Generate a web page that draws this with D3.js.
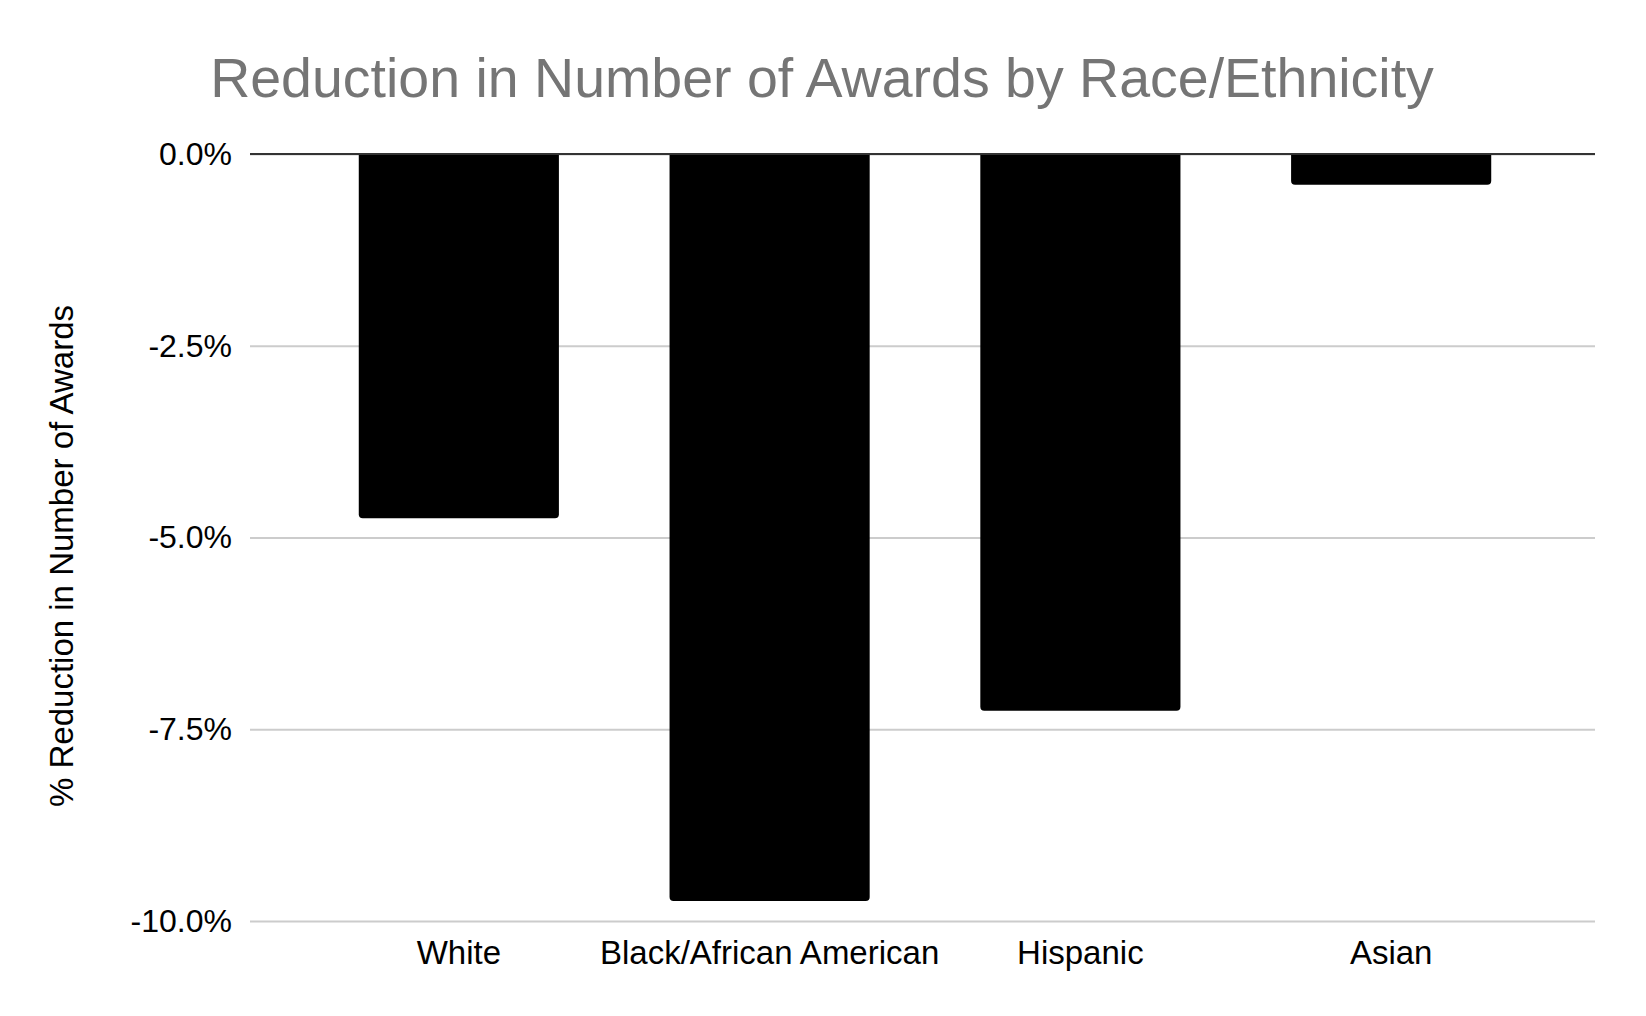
<!DOCTYPE html>
<html>
<head>
<meta charset="utf-8">
<script src="https://cdn.jsdelivr.net/npm/d3@7"></script>
<style>
  body { margin: 0; background: #fff; }
  text { font-family: "Liberation Sans", Arial, sans-serif; }
</style>
</head>
<body>
<div id="chart"></div>
<script>
// Data
const categories = ["White", "Black/African American", "Hispanic", "Asian"];
const reductions = [-4.75, -9.74, -7.26, -0.40];
const tickValues = [0, -2.5, -5, -7.5, -10];

const width = 1646;
const height = 1016;
const margin = { top: 154, right: 51, bottom: 95, left: 250 };

const svg = d3.select("#chart")
  .append("svg")
  .attr("width", width)
  .attr("height", height);

// Title
svg.append("text")
  .attr("x", width / 2 - 1)
  .attr("y", 97)
  .attr("text-anchor", "middle")
  .style("font-size", "55.5px")
  .style("fill", "#757575")
  .text("Reduction in Number of Awards by Race/Ethnicity");

// Scales (bars sit a little inside the gridline extent)
const x = d3.scaleBand()
  .domain(categories)
  .range([margin.left, width - 46])
  .paddingInner(0.356)
  .paddingOuter(0.35);

const y = d3.scaleLinear()
  .domain([0, -10])
  .range([margin.top, height - margin.bottom]);

// Gridlines + tick labels
const yAxis = svg.append("g")
  .attr("transform", `translate(${margin.left},0)`)
  .call(d3.axisLeft(y)
    .tickValues(tickValues)
    .tickSize(-(width - margin.left - margin.right))
    .tickPadding(18)
    .tickFormat(d => d3.format(".1f")(d).replace("\u2212", "-") + "%"));

yAxis.select(".domain").remove();
yAxis.selectAll(".tick line")
  .attr("stroke", "#cccccc")
  .attr("stroke-width", 2);
yAxis.selectAll(".tick text")
  .style("font-size", "32px")
  .attr("fill", "#000");

// Bars with rounded bottom corners
const r = 4;
function barPath(d, i) {
  const x0 = x(categories[i]);
  const x1 = x0 + x.bandwidth();
  const y0 = y(0);
  const y1 = y(d);
  const rr = Math.min(r, (y1 - y0) / 2);
  return `M${x0},${y0}L${x1},${y0}L${x1},${y1 - rr}Q${x1},${y1} ${x1 - rr},${y1}` +
    `L${x0 + rr},${y1}Q${x0},${y1} ${x0},${y1 - rr}Z`;
}

svg.selectAll("path.bar")
  .data(reductions)
  .join("path")
  .attr("class", "bar")
  .attr("d", barPath)
  .attr("fill", "#000");

// Zero baseline
svg.append("line")
  .attr("x1", margin.left)
  .attr("x2", width - margin.right)
  .attr("y1", y(0))
  .attr("y2", y(0))
  .attr("stroke", "#333333")
  .attr("stroke-width", 2);

// Category labels
svg.selectAll("text.cat")
  .data(categories)
  .join("text")
  .attr("class", "cat")
  .attr("x", d => x(d) + x.bandwidth() / 2)
  .attr("y", 964)
  .attr("text-anchor", "middle")
  .style("font-size", "33px")
  .attr("fill", "#000")
  .text(d => d);

// Y-axis label
svg.append("text")
  .attr("transform", `translate(73,556) rotate(-90)`)
  .attr("text-anchor", "middle")
  .style("font-size", "33px")
  .attr("fill", "#000")
  .text("% Reduction in Number of Awards");
</script>
</body>
</html>
